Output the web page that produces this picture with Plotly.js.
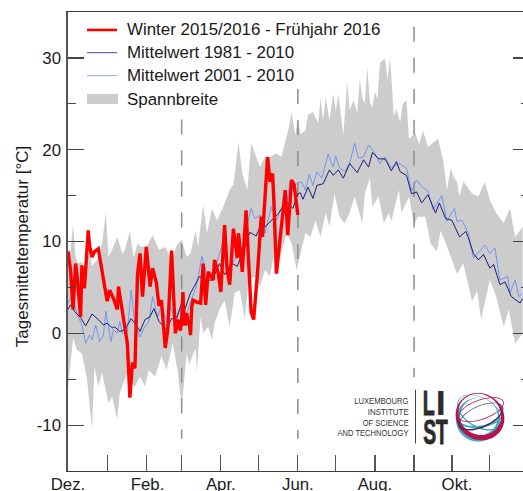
<!DOCTYPE html>
<html>
<head>
<meta charset="utf-8">
<script src="https://cdn.plot.ly/plotly-3.0.1.min.js"></script>
<style>html,body{margin:0;padding:0;background:#fff;overflow:hidden;width:523px;height:491px}</style>
</head>
<body>
<div id="chart"></div>
<script>
// Days are counted from 1 December; values in °C.
const redDays = [0,2,4,6,7,10,11,13,16,17,19,21,24,27,29,31,33,36,39,40,42,45,47,49,51,53,55,57,59,62,65,67,70,72,74,77,79,82,84,85,87,89,90,91,92,93,94,95,96,97,98,99,102,105,107,109,111,115,116,119,121,124,126,128,131,134,135,138,141,143,145,147,150,153,154,158,160,162,163,165,168,169,172,174,177,179,182];
const redVals = [8.9,6.9,2.6,7.6,6.5,1.8,7.4,4.9,11.2,9.6,8.3,8.9,9.2,6.5,5.1,3.5,4.7,3.8,2.6,5.1,3.3,0.4,-1.1,-7,-3.2,-3.8,6.4,8.7,4.0,9.4,5.1,7.1,5.5,3.0,3.6,-1.6,0.4,9.0,4.0,0.0,1.5,0.3,1.5,4.5,1.0,1.0,2.2,1.2,1.0,-0.2,2.9,3.6,3.4,3.3,7.6,3.1,6.7,5.8,8,6.5,4.5,11.8,6.9,5.3,11.4,8.2,10.9,6.7,13.4,7.6,2.3,1.5,6.5,12.7,10.5,19.2,16.5,17.4,14.5,6.5,10.5,11.2,15.6,10.7,16.7,16.2,12.9];

const darkDays = [0,2,5,10,14,19,24,28,31,35,37,41,45,50,54,57,61,65,68,72,78,82,86,90,92,97,100,104,109,114,120,124,130,134,139,144,149,152,156,161,167,172,174,178,182,184,186,190,194,197,202,207,210,214,218,223,229,234,238,241,246,251,256,260,263,268,272,276,280,285,291,294,299,304,310,315,317,321,325,329,334,337,342,346,351,358,360];
const darkVals = [2.6,3.1,2.4,1.7,0.8,2.1,1.5,0.9,1.1,0.6,0.7,0.2,0.4,1.6,0.9,0.2,1.5,1.8,2.7,1.3,0.4,1.6,1.6,3.3,2.4,4.4,5.1,6.2,5.8,5.8,7.6,6.4,7.6,7.3,9.0,11.0,10.6,11.6,11.6,12.3,13.1,14.3,14.2,13.6,15.2,15.3,14.6,15.9,14.7,16.1,16.3,17.8,17.2,17.8,16.9,18.5,17.5,18.9,18.1,19.7,19.0,19.0,17.7,18.7,17.6,17.2,15.2,15.4,14.2,15.1,13.1,14.2,12.5,12.3,10.5,11.1,10.4,8.7,8.0,8.6,7.1,7.5,5.3,5.6,4.0,3.3,3.8];

const lightDays = [0,2,4,7,11,14,17,19,22,25,28,30,34,36,39,41,43,47,50,53,57,60,64,67,71,74,79,81,85,89,94,97,102,106,109,113,116,122,126,132,138,142,145,148,152,156,161,165,168,172,176,180,185,188,191,194,197,201,206,210,212,215,219,223,227,230,234,238,243,247,251,256,262,268,272,276,280,285,289,296,300,306,308,312,317,321,330,334,338,342,348,350,354,357,360];
const lightVals = [3.3,3.8,3.8,2.2,0.9,-1.1,-0.2,-0.7,0.9,-0.9,-0.2,2.4,-0.9,0.4,0,1.3,0,0.2,4.7,0.9,-0.4,0.5,1.3,4.0,1.8,3.0,1.1,2.9,1.5,2.8,2.2,3.4,5.3,8.4,6.9,6.2,6.9,9.6,6.9,8.0,9.4,11.9,13.6,12.5,12.9,10.9,13.8,12.3,13.4,13.0,16.7,16.2,16.5,15.6,17.3,16.1,17.6,16.9,19.5,18.1,19.3,18,17.6,18.5,20.7,19.1,19.2,20.5,19.6,18.5,19.2,18.0,18.5,18.0,15.5,16.7,16.0,15.5,13.5,15.0,12.2,13.6,12.2,12.3,10.9,8.2,9.6,8.7,9.3,5.8,6.2,4.4,5.8,4.0,4.4];

const rangeUpDays = [0,2,4,6,8,11,13,16,19,23,27,30,32,35,39,43,45,49,52,55,58,63,67,72,77,82,86,90,94,97,101,103,107,110,114,118,123,128,131,135,138,142,145,148,152,156,160,165,169,175,177,180,182,184,188,190,194,198,200,202,204,207,210,212,214,218,221,223,226,229,231,233,235,237,239,241,243,245,247,251,253,255,258,260,263,265,268,270,275,278,281,285,289,293,297,300,303,305,308,310,313,316,320,325,330,334,339,345,350,354,360];
const rangeUpVals = [8.9,9.1,11.8,8.3,7.6,7.8,6.9,9.6,7.3,8.0,9.8,13.2,8.3,9.1,10.5,8.7,9.1,11.1,8.2,9.8,9.4,9.6,10.7,9.1,9.4,8.0,9.6,10.2,8.3,8.7,11.2,9.4,14.0,10.9,13.6,12.3,13.8,15.6,16.2,20.8,17.4,15.6,20.7,19.6,18.1,19.2,19.2,19.6,19.2,22.5,24.1,21.6,23.4,21.7,22.1,23.8,24.1,22.9,25.6,23.2,25.7,23.2,26.1,24.2,26.1,21.6,27.4,24.3,25.4,24,27.7,25.7,25,29.0,25.2,24.6,26.3,25.5,29.5,29.9,27.6,30.1,23.6,24.5,23.0,25,25.4,21.2,21.8,20.6,22.1,20.3,20.7,21.2,18.9,15.6,18,17.1,16.5,14.9,16.5,16.0,15.2,14.9,16.5,14.5,13.1,12.0,13.6,10.5,11.6];

const rangeLowDays = [0,4,7,11,15,19,21,24,27,32,35,39,41,47,51,53,57,61,64,69,74,78,83,87,90,94,96,101,102,105,107,111,114,116,120,124,128,132,136,140,143,148,152,156,160,164,168,173,177,181,184,188,192,196,200,204,207,211,215,219,223,227,233,235,239,241,246,250,254,256,262,264,270,274,277,283,287,292,295,300,308,313,320,324,327,334,339,345,349,354,360];
const rangeLowVals = [-6.1,-0.5,-1.8,-2.2,-4.9,-10.5,-3.6,-5.8,-4.3,-7.6,-6.9,-9.4,-6.5,-4.3,-5.6,-5.8,-4.7,-5.8,-4.0,-4.7,-2.5,-4.0,-1.1,-4.3,-8.0,-2.2,-3.4,-1.6,-4.3,1.8,0,0.7,-0.7,1.1,2.6,3.6,0.7,4.4,4.7,1.6,5.8,6.2,5.1,6.9,6.2,9.4,8.3,10.9,9.8,6.9,8.7,10.9,10.5,12.3,10.5,13.1,11.6,15.2,12.7,12.0,13.1,14.9,12.0,15.2,16.9,13.8,14.9,12.0,13.1,12.2,15.6,13.1,14.9,11.8,12.7,12.7,9.8,8.9,11.2,9.5,6.5,7.6,3.5,4.7,1.5,5.8,4.0,0.7,2.6,-1.1,0.0];

const monthDays = [31,62,90,121,151,182,212,243,274,304,334];
const labelDays = [0,63,121,182,243,308];
const labelTexts = ['Dez.','Feb.','Apr.','Jun.','Aug.','Okt.'];
const yTickVals = [-10,0,10,20,30];
const yTickTexts = ['-10','0','10','20','30'];

const seasonDays = [90,182,274];
const seasonTops = [23.3,26.6,33.4];
const seasonBottoms = [-11.5,-11.5,-4.8];

const names = ['Winter 2015/2016 - Frühjahr 2016','Mittelwert 1981 - 2010','Mittelwert 2001 - 2010','Spannbreite'];
const logoLines = ['LUXEMBOURG','INSTITUTE','OF SCIENCE','AND TECHNOLOGY'];

// ---- layout geometry ----
const W = 540, H = 491, L = 68, R = 529, T = 11.5, B = 471.5;
const px = x => (x - L) / (R - L);
const py = y => (B - y) / (B - T);
const FONT='Liberation Sans, Arial, sans-serif';

const traces = [];
traces.push({x: rangeUpDays.concat(rangeLowDays.slice().reverse()),
             y: rangeUpVals.concat(rangeLowVals.slice().reverse()),
             mode:'lines', fill:'toself', fillcolor:'#cccccc', line:{width:0,color:'#cccccc'},
             name:names[3], hoverinfo:'skip'});
seasonDays.forEach((d,i)=>traces.push({x:[d,d], y:[seasonTops[i],seasonBottoms[i]], mode:'lines',
             line:{color:'#8c8c8c',width:1.5,dash:'15px,16px'}, hoverinfo:'skip'}));
traces.push({x:lightDays,y:lightVals,mode:'lines',line:{color:'#7096ee',width:1},name:names[2]});
traces.push({x:darkDays,y:darkVals,mode:'lines',line:{color:'#1c1c78',width:1},name:names[1]});
traces.push({x:redDays,y:redVals,mode:'lines',line:{color:'#ff0000',width:3.4},name:names[0]});

// ---- logo ----
function ell(cx,cy,rx,ry,rot){
  let s='';const r=rot*Math.PI/180;
  for(let i=0;i<=72;i++){const t=i/72*2*Math.PI;
    const a=rx*Math.cos(t),b=ry*Math.sin(t);
    const X=cx+a*Math.cos(r)-b*Math.sin(r),Y=cy+a*Math.sin(r)+b*Math.cos(r);
    s+=(i?'L':'M')+px(X).toFixed(5)+','+py(Y).toFixed(5);}
  return s+'Z';
}
const ring=(cx,cy,rx,ry,rot,dx,dy,d,col)=>({type:'path',xref:'paper',yref:'paper',layer:'above',
  path:ell(cx,cy,rx,ry,rot)+ell(cx+dx,cy+dy,rx-d,ry-d,rot),fillrule:'evenodd',fillcolor:col,line:{width:0}});
const TEAL='#3fa9bd',CRIM='#b8124f',NAVY='#3a2a5e';
const shapes=[
  ring(478,420,22,22,0,1,-3,3.2,TEAL),
  ring(480,413,25,15,30,0,-0.5,1,TEAL),
  ring(480,417,23,11,-8,0,-1,1,TEAL),
  ring(480,417,25,23,35,-0.3,-2.2,3,CRIM),
  ring(481,410,24,10,-20,0,0,0.8,CRIM),
  ring(481,417,24,11,-24,0,-0.5,1.1,NAVY),
  {type:'line',xref:'paper',yref:'paper',x0:px(415.5),x1:px(415.5),y0:py(390),y1:py(444),line:{color:'#444',width:1}}
];

// ---- key ----
const keyY=[29.5,52.3,75.3,98.7];
const keyCol=['#ff0000','#4a4aa6','#8fa8f2'];
const keyW=[2.6,1,1];
keyCol.forEach((c,i)=>shapes.push({type:'line',xref:'paper',yref:'paper',x0:px(87),x1:px(117),y0:py(keyY[i]),y1:py(keyY[i]),line:{color:c,width:keyW[i]}}));
shapes.push({type:'rect',xref:'paper',yref:'paper',x0:px(87),x1:px(118),y0:py(93.6),y1:py(103.6),fillcolor:'#cccccc',line:{width:0}});

const annos=[];
names.forEach((t,i)=>annos.push({xref:'paper',yref:'paper',x:px(125),y:py(keyY[i]),text:t,showarrow:false,
  xanchor:'left',yanchor:'middle',font:{family:FONT,size:16.9,color:'#1a1a1a'}}));

// logo texts: [text, centre x, centre y, rendered width, size, weight, colour, stroke]
const logoText=[];
const lineW=[54,41,46,71];
logoLines.forEach((t,i)=>logoText.push([t,408.5-lineW[i]/2,401+i*10.7,lineW[i],9.4,400,'#333',0]));
[['L',428,402.5,12,0.9],['I',440.5,402.5,10,0],['S',429,432,13,0.9],['T',441.5,432,12,0.9]].forEach(a=>logoText.push([a[0],a[1],a[2],a[3],35,700,'#2b2b2b',a[4]]));
logoText.forEach(a=>annos.push({xref:'paper',yref:'paper',x:px(a[1]),y:py(a[2]),text:a[0],showarrow:false,
  xanchor:'center',yanchor:'middle',font:{family:FONT,size:a[4],color:a[6],weight:a[5]}}));

Plotly.newPlot('chart',traces,{
  width:W,height:H,paper_bgcolor:'#fff',plot_bgcolor:'#fff',
  margin:{l:L,r:W-R,t:T,b:H-B,pad:0},
  font:{family:FONT,size:17,color:'#1a1a1a'},
  showlegend:false,
  xaxis:{range:[0,365],tickmode:'array',tickvals:labelDays,ticktext:labelTexts,ticks:'inside',ticklen:0,tickwidth:0,
         showgrid:false,zeroline:false,showline:true,mirror:true,linecolor:'#3a3a3a',linewidth:1.3,
         tickfont:{size:16.8,family:FONT,color:'#1a1a1a'},ticklabelstandoff:-2,
         minor:{tickmode:'array',tickvals:monthDays,ticks:'inside',ticklen:16,tickwidth:1.2,tickcolor:'#555',showgrid:false}},
  yaxis:{range:[-15,35],tickmode:'array',tickvals:yTickVals,ticktext:yTickTexts,ticks:'inside',ticklen:16,tickwidth:1.2,tickcolor:'#444',
         showgrid:false,zeroline:false,showline:true,mirror:'ticks',linecolor:'#555',linewidth:1.6,
         tickfont:{size:16.8,family:FONT,color:'#1a1a1a'},ticklabelstandoff:2,
         title:{text:'Tagesmitteltemperatur [°C]',font:{size:17,family:FONT,color:'#1a1a1a'},standoff:0},
         minor:{tickmode:'array',tickvals:[-5,5,15,25],ticks:'inside',ticklen:8,tickwidth:1.2,tickcolor:'#444',showgrid:false}},
  shapes:shapes,annotations:annos
},{displayModeBar:false,staticPlot:true}).then(()=>{
  // squeeze the logo lettering to the logo's narrow proportions
  const texts=[...document.querySelectorAll('.annotation-text')];
  const offset=names.length;
  logoText.forEach((a,i)=>{const el=texts[offset+i];
    if(el){el.setAttribute('textLength',a[3]);el.setAttribute('lengthAdjust','spacingAndGlyphs');
      if(a[7]){el.style.stroke=a[6];el.style.strokeWidth=a[7]+'px';}}});
  // nudge the y axis title to the reference position
  const yt=document.querySelector('.ytitle');
  if(yt){const old=yt.getAttribute('transform')||'';yt.setAttribute('transform','translate(-4,5) '+old);}
});
</script>
</body>
</html>
